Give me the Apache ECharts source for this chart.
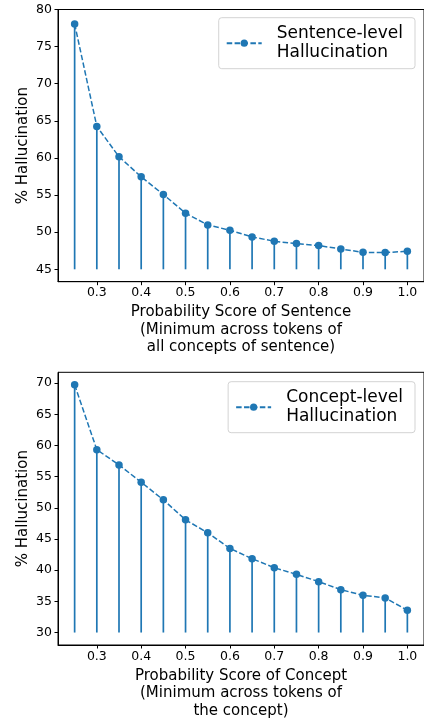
<!DOCTYPE html>
<html>
<head>
<meta charset="utf-8">
<script src="https://cdn.jsdelivr.net/npm/echarts@6/dist/echarts.min.js"></script>
<style>
html,body{margin:0;padding:0;background:#fff;}
#chart{width:424px;height:722px;}
</style>
</head>
<body>
<div id="chart"></div>
<script>
// ---- data ----
const probScores = [0.25,0.30,0.35,0.40,0.45,0.50,0.55,0.60,0.65,0.70,0.75,0.80,0.85,0.90,0.95,1.00];
const sentenceHalluc = [78.06,64.25,60.16,57.46,55.08,52.56,50.98,50.26,49.36,48.78,48.46,48.19,47.74,47.29,47.25,47.43];
const conceptHalluc  = [69.73,59.33,56.88,54.11,51.28,48.08,46.00,43.49,41.84,40.40,39.33,38.16,36.88,35.97,35.55,33.57];
const sentenceStemBase = 45;
const conceptStemBase = 30;
const xTicks = [0.3,0.4,0.5,0.6,0.7,0.8,0.9,1.0];
const sentenceYTicks = [45,50,55,60,65,70,75,80];
const conceptYTicks = [30,35,40,45,50,55,60,65,70];
const sentenceSeriesName = 'Sentence-level Hallucination';
const conceptSeriesName = 'Concept-level Hallucination';
const sentenceXTitle = 'Probability Score of Sentence\n(Minimum across tokens of\nall concepts of sentence)';
const conceptXTitle = 'Probability Score of Concept\n(Minimum across tokens of\nthe concept)';
const yTitle = '% Hallucination';

const BLUE = '#1f77b4';
const FONT = 'DejaVu Sans';

function pairs(xs, ys){ return xs.map((x,i)=>[x, ys[i]]); }

function xAxisCfg(gridIndex, title){
  return {
    type:'value', gridIndex, min:0.2125, max:1.0375,
    splitLine:{show:false},
    axisLine:{show:true, onZero:false, lineStyle:{color:'#000', width:1}},
    axisTick:{show:true, length:3.5, customValues:xTicks, lineStyle:{color:'#000', width:1}},
    axisLabel:{show:true, customValues:xTicks, margin:5, color:'#000', fontFamily:FONT, fontSize:12.5,
      formatter:v=>Number(v).toFixed(1)},
    name:title, nameLocation:'middle', nameGap:22,
    nameTextStyle:{color:'#000', fontFamily:FONT, fontSize:15, lineHeight:17.5}
  };
}
function yAxisCfg(gridIndex, min, max, ticks){
  return {
    type:'value', gridIndex, min, max,
    splitLine:{show:false},
    axisLine:{show:true, onZero:false, lineStyle:{color:'#000', width:1}},
    axisTick:{show:true, length:3.5, customValues:ticks, lineStyle:{color:'#000', width:1}},
    axisLabel:{show:true, customValues:ticks, margin:6, color:'#000', fontFamily:FONT, fontSize:12.5,
      formatter:v=>String(Math.round(v))},
    name:yTitle, nameLocation:'middle', nameGap:27, nameRotate:90, nameMoveOverlap:false,
    nameTextStyle:{color:'#000', fontFamily:FONT, fontSize:15}
  };
}
function stemSeries(idx, xs, ys, base){
  return {
    type:'custom', xAxisIndex:idx, yAxisIndex:idx, z:2,
    data: pairs(xs, ys),
    renderItem:function(params, api){
      const p1 = api.coord([api.value(0), base]);
      const p2 = api.coord([api.value(0), api.value(1)]);
      return {type:'line', shape:{x1:p1[0], y1:p1[1], x2:p2[0], y2:p2[1]},
        style:{stroke:BLUE, lineWidth:1.7}};
    }
  };
}
function lineSeries(idx, name, xs, ys){
  return {
    type:'line', name, xAxisIndex:idx, yAxisIndex:idx, z:3,
    data: pairs(xs, ys),
    symbol:'circle', symbolSize:7.5, showSymbol:true,
    itemStyle:{color:BLUE},
    lineStyle:{color:BLUE, width:1.5, type:[5.5,2.4]},
    animation:false
  };
}
function legendCfg(name, top){
  return {
    data:[name], right:9, top, orient:'vertical',
    padding:[6,12,6,7], itemWidth:35, itemHeight:9,
    borderColor:'#d3d3d3', borderWidth:1, borderRadius:3,
    backgroundColor:'rgba(255,255,255,0.8)',
    formatter:n=>n.replace(' ','\n'),
    textStyle:{color:'#000', fontFamily:FONT, fontSize:17, lineHeight:19.5, padding:[0,0,0,10]},
    selectedMode:false
  };
}

const chart = echarts.init(document.getElementById('chart'), null, {renderer:'canvas'});
chart.setOption({
  animation:false,
  backgroundColor:'#fff',
  grid:[
    {left:58, top:9.5, width:366.5, height:272.2, show:true, borderColor:'#000', borderWidth:1, backgroundColor:'transparent'},
    {left:58, top:372.3, width:366.5, height:272.7, show:true, borderColor:'#000', borderWidth:1, backgroundColor:'transparent'}
  ],
  xAxis:[ xAxisCfg(0, sentenceXTitle), xAxisCfg(1, conceptXTitle) ],
  yAxis:[ yAxisCfg(0, 43.33, 80, sentenceYTicks), yAxisCfg(1, 28.0, 71.74, conceptYTicks) ],
  legend:[ legendCfg(sentenceSeriesName, 17.7), legendCfg(conceptSeriesName, 381.7) ],
  series:[
    stemSeries(0, probScores, sentenceHalluc, sentenceStemBase),
    lineSeries(0, sentenceSeriesName, probScores, sentenceHalluc),
    stemSeries(1, probScores, conceptHalluc, conceptStemBase),
    lineSeries(1, conceptSeriesName, probScores, conceptHalluc)
  ]
});
</script>
</body>
</html>
